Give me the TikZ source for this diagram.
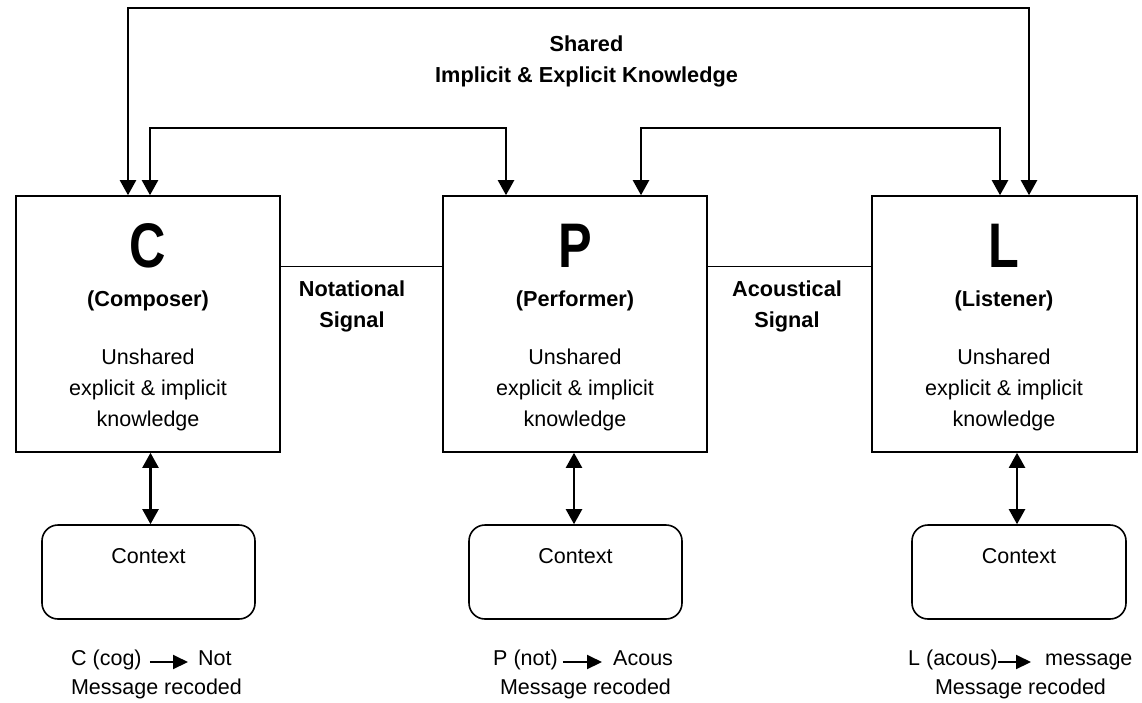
\documentclass[tikz,border=0pt]{standalone}
\usepackage{fontspec}
\setmainfont{Liberation Sans}
\usepackage{graphicx}
\usetikzlibrary{arrows.meta}
\begin{document}
\begin{tikzpicture}[x=1pt,y=-1pt,
  box/.style={draw,line width=1.6pt,minimum width=264pt,minimum height=256pt,inner sep=0pt},
  ctx/.style={draw,line width=1.6pt,rounded corners=16pt,minimum width=213pt,minimum height=94pt,inner sep=0pt},
  txt/.style={inner sep=0pt,font=\fontsize{21.5}{31}\selectfont,align=center},
  btxt/.style={inner sep=0pt,font=\fontsize{21.7}{31}\selectfont\bfseries,align=center},
  big/.style={inner sep=0pt,font=\fontsize{63}{63}\selectfont\bfseries},
  dbl/.style={line width=2.2pt,{Triangle[length=15pt,width=16pt]}-{Triangle[length=15pt,width=16pt]}},
  sig/.style={line width=1.4pt},
  smallarrow/.style={line width=2pt,-{Triangle[length=15pt,width=14pt]}}]
\useasboundingbox (0,0) rectangle (1142,702);

% main boxes
\node[box] (C) at (148,324) {};
\node[box] (P) at (575,324) {};
\node[box,minimum width=265pt] (L) at (1004.5,324) {};

% box contents
\node[big,anchor=base] (Cl) at (148,267) {\scalebox{0.8}[1]{C}};
\node[big,anchor=base] (Pl) at (575,267) {\scalebox{0.8}[1]{P}};
\node[big,anchor=base] (Ll) at (1004,267) {\scalebox{0.8}[1]{L}};
\node[btxt,anchor=base] (Cn) at (148,306) {(Composer)};
\node[btxt,anchor=base] (Pn) at (575,306) {(Performer)};
\node[btxt,anchor=base] (Ln) at (1004,306) {(Listener)};
\node[txt,anchor=base] (Cd) at (148,426) {Unshared\\explicit \& implicit\\knowledge};
\node[txt,anchor=base] (Pd) at (575,426) {Unshared\\explicit \& implicit\\knowledge};
\node[txt,anchor=base] (Ld) at (1004,426) {Unshared\\explicit \& implicit\\knowledge};

% signal lines and labels
\draw[sig] ([yshift=-71pt]C.north east) -- ([yshift=-71pt]P.north west);
\draw[sig] ([yshift=-71pt]P.north east) -- ([yshift=-71pt]L.north west);
\node[btxt,anchor=base] (ns) at (352,327) {Notational\\Signal};
\node[btxt,anchor=base] (as) at (787,327) {Acoustical\\Signal};

% shared knowledge
\node[btxt,anchor=base] (sh) at (586.5,82) {Shared\\Implicit \& Explicit Knowledge};
\coordinate (top1) at (0,8);
\coordinate (top2) at (0,128);
\draw[dbl] ([xshift=-20pt]C.north) -- ([xshift=-20pt]C.north |- top1) -- ([xshift=24.5pt]L.north |- top1) -- ([xshift=24.5pt]L.north);
\draw[dbl] ([xshift=2pt]C.north) -- ([xshift=2pt]C.north |- top2) -- ([xshift=-69pt]P.north |- top2) -- ([xshift=-69pt]P.north);
\draw[dbl] ([xshift=66pt]P.north) -- ([xshift=66pt]P.north |- top2) -- ([xshift=-4.5pt]L.north |- top2) -- ([xshift=-4.5pt]L.north);

% context boxes
\node[ctx] (Cc) at (148.5,572) {};
\node[ctx] (Pc) at (575.5,572) {};
\node[ctx,minimum width=214pt] (Lc) at (1019,572) {};
\node[txt,anchor=base] (Cct) at (148.5,563) {Context};
\node[txt,anchor=base] (Pct) at (575.5,563) {Context};
\node[txt,anchor=base] (Lct) at (1019,563) {Context};
\draw[dbl] ([xshift=2pt]Cc.north) -- ([xshift=2pt]Cc.north |- C.south);
\draw[dbl] ([xshift=-1.5pt]Pc.north) -- ([xshift=-1.5pt]Pc.north |- P.south);
\draw[dbl] ([xshift=-2pt]Lc.north) -- ([xshift=-2pt]Lc.north |- L.south);

% bottom texts
\node[txt,anchor=base west] (b1a) at (71,665) {C (cog)};
\node[txt,anchor=base west] (b1b) at (198,665) {Not};
\draw[smallarrow] ([shift={(8pt,3pt)}]b1a.base east) -- ([shift={(-10pt,3pt)}]b1b.base west);
\node[txt,anchor=base] (b1c) at (156.5,694) {Message recoded};

\node[txt,anchor=base west] (b2a) at (493,665) {P (not)};
\node[txt,anchor=base west] (b2b) at (613,665) {Acous};
\draw[smallarrow] ([shift={(5pt,3pt)}]b2a.base east) -- ([shift={(-11pt,3pt)}]b2b.base west);
\node[txt,anchor=base] (b2c) at (585.5,694) {Message recoded};

\node[txt,anchor=base west] (b3a) at (908,665) {L (acous)};
\node[txt,anchor=base west] (b3b) at (1045,665) {message};
\draw[smallarrow] ([shift={(0pt,3pt)}]b3a.base east) -- ([shift={(-14pt,3pt)}]b3b.base west);
\node[txt,anchor=base] (b3c) at (1020.5,694) {Message recoded};
\end{tikzpicture}
\end{document}
